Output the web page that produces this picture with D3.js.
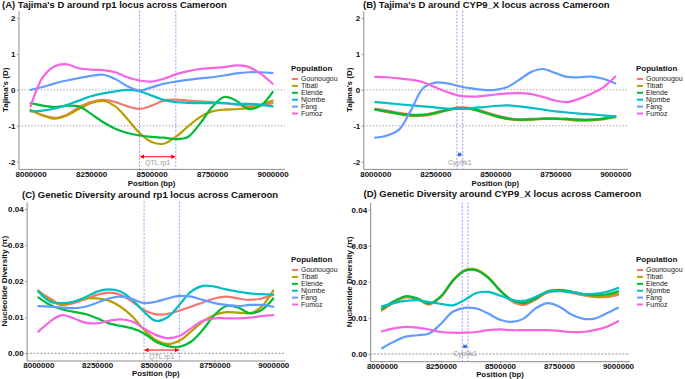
<!DOCTYPE html>
<html>
<head>
<meta charset="utf-8">
<script src="https://cdn.jsdelivr.net/npm/d3@7"></script>
<style>
  body { margin: 0; background: #fff; }
  svg { display: block; font-family: "Liberation Sans", Arial, sans-serif; }
</style>
</head>
<body>
<svg width="685" height="379"></svg>
<script>
// window positions (bp) where the smoothed curves were read
const positions = [8000000, 8050000, 8100000, 8150000, 8200000, 8250000, 8300000,
  8350000, 8400000, 8450000, 8500000, 8550000, 8600000, 8650000, 8700000,
  8750000, 8800000, 8850000, 8900000, 8950000, 9000000];

const populations = ["Gounougou", "Tibati", "Elende", "Njombe", "Fang", "Fumoz"];
const popColors = ["#F8766D", "#B79F00", "#00BA38", "#00BFC4", "#619CFF", "#F564E3"];

// rows follow populations order
const tajimaRp1 = [
  [-0.57, -0.71, -0.78, -0.69, -0.48, -0.34, -0.28, -0.34, -0.46, -0.53, -0.44, -0.3, -0.27, -0.3, -0.32, -0.34, -0.37, -0.41, -0.46, -0.44, -0.37],
  [-0.56, -0.71, -0.8, -0.71, -0.53, -0.37, -0.31, -0.46, -0.81, -1.2, -1.45, -1.5, -1.31, -1.02, -0.76, -0.6, -0.55, -0.54, -0.5, -0.42, -0.3],
  [-0.37, -0.44, -0.48, -0.44, -0.46, -0.67, -0.9, -1.08, -1.2, -1.27, -1.31, -1.33, -1.37, -1.31, -0.94, -0.48, -0.2, -0.3, -0.53, -0.44, -0.06],
  [-0.6, -0.58, -0.52, -0.42, -0.3, -0.18, -0.1, -0.04, 0.0, -0.04, -0.16, -0.28, -0.34, -0.36, -0.37, -0.37, -0.37, -0.39, -0.39, -0.41, -0.46],
  [0.0, 0.08, 0.18, 0.26, 0.33, 0.39, 0.42, 0.3, 0.1, -0.02, 0.07, 0.17, 0.23, 0.28, 0.32, 0.35, 0.4, 0.46, 0.49, 0.49, 0.47],
  [-0.46, 0.35, 0.66, 0.71, 0.6, 0.56, 0.55, 0.49, 0.35, 0.26, 0.23, 0.31, 0.43, 0.52, 0.58, 0.61, 0.63, 0.68, 0.64, 0.45, 0.17]
];

const tajimaCyp9 = [
  [-0.53, -0.58, -0.64, -0.69, -0.69, -0.63, -0.55, -0.49, -0.51, -0.6, -0.7, -0.78, -0.82, -0.81, -0.8, -0.8, -0.81, -0.83, -0.83, -0.8, -0.74],
  [-0.55, -0.62, -0.68, -0.73, -0.72, -0.66, -0.57, -0.51, -0.54, -0.63, -0.74, -0.81, -0.84, -0.83, -0.81, -0.81, -0.83, -0.86, -0.85, -0.82, -0.76],
  [-0.55, -0.6, -0.66, -0.7, -0.7, -0.64, -0.56, -0.5, -0.53, -0.62, -0.72, -0.8, -0.83, -0.82, -0.8, -0.8, -0.81, -0.83, -0.83, -0.8, -0.74],
  [-0.34, -0.37, -0.4, -0.43, -0.46, -0.49, -0.52, -0.53, -0.51, -0.48, -0.45, -0.43, -0.46, -0.5, -0.55, -0.6, -0.63, -0.66, -0.68, -0.71, -0.74],
  [-1.33, -1.27, -1.1, -0.55, 0.05, 0.2, 0.18, 0.1, 0.04, 0.0, 0.0, 0.08, 0.28, 0.5, 0.58, 0.47, 0.36, 0.35, 0.37, 0.31, 0.18],
  [0.36, 0.35, 0.32, 0.28, 0.21, 0.07, -0.06, -0.16, -0.19, -0.17, -0.13, -0.1, -0.09, -0.12, -0.2, -0.3, -0.34, -0.25, -0.11, 0.07, 0.37]
];

const piRp1 = [
  [0.0171, 0.0152, 0.0134, 0.0139, 0.015, 0.0162, 0.0168, 0.0162, 0.0143, 0.012, 0.0108, 0.0109, 0.0118, 0.0129, 0.0141, 0.0152, 0.0157, 0.0152, 0.0148, 0.0152, 0.0162],
  [0.0174, 0.0148, 0.0134, 0.0143, 0.0152, 0.0152, 0.0146, 0.0129, 0.0102, 0.0065, 0.0037, 0.0026, 0.0035, 0.006, 0.0088, 0.0106, 0.0114, 0.0113, 0.0111, 0.0129, 0.0174],
  [0.0155, 0.0134, 0.0122, 0.0115, 0.0109, 0.0097, 0.0083, 0.0076, 0.0069, 0.0055, 0.0032, 0.002, 0.0018, 0.0032, 0.0065, 0.0106, 0.0131, 0.0127, 0.0111, 0.012, 0.0152],
  [0.0171, 0.0143, 0.0139, 0.0143, 0.0155, 0.0171, 0.0177, 0.0171, 0.0148, 0.0115, 0.009, 0.01, 0.0134, 0.0171, 0.0187, 0.0185, 0.0177, 0.0171, 0.0166, 0.0164, 0.0163],
  [0.0131, 0.0129, 0.0127, 0.0125, 0.0129, 0.014, 0.0152, 0.0157, 0.015, 0.0139, 0.0143, 0.0152, 0.0159, 0.0157, 0.0148, 0.0139, 0.0134, 0.0131, 0.0134, 0.0134, 0.0129],
  [0.006, 0.0088, 0.0106, 0.0097, 0.0085, 0.0083, 0.009, 0.0094, 0.0088, 0.0069, 0.0051, 0.0042, 0.0048, 0.0069, 0.009, 0.0097, 0.0097, 0.0097, 0.0099, 0.0103, 0.0106]
];

const piCyp9 = [
  [0.0121, 0.0142, 0.0157, 0.0152, 0.0137, 0.0158, 0.0202, 0.023, 0.0232, 0.0212, 0.0176, 0.0146, 0.0136, 0.015, 0.017, 0.0175, 0.017, 0.0163, 0.0158, 0.0158, 0.0164],
  [0.0123, 0.0144, 0.0159, 0.0154, 0.0139, 0.016, 0.0204, 0.0232, 0.0234, 0.0213, 0.0177, 0.0149, 0.014, 0.0153, 0.0173, 0.0178, 0.0173, 0.0165, 0.0159, 0.016, 0.0168],
  [0.0125, 0.0146, 0.016, 0.0154, 0.014, 0.016, 0.0203, 0.0231, 0.0232, 0.0211, 0.0176, 0.015, 0.0141, 0.0154, 0.0173, 0.0177, 0.0173, 0.0167, 0.0163, 0.0165, 0.0174],
  [0.0132, 0.0141, 0.0147, 0.0149, 0.0144, 0.0139, 0.0135, 0.015, 0.0169, 0.0172, 0.0162, 0.015, 0.0147, 0.0158, 0.0172, 0.0174, 0.0172, 0.0167, 0.0167, 0.0172, 0.0183],
  [0.0016, 0.0034, 0.0048, 0.0052, 0.0057, 0.0084, 0.0117, 0.0128, 0.0126, 0.0112, 0.0095, 0.0089, 0.0098, 0.0126, 0.0141, 0.0132, 0.011, 0.0098, 0.0098, 0.0112, 0.0128],
  [0.0063, 0.0071, 0.0075, 0.0073, 0.0068, 0.0061, 0.0059, 0.0059, 0.0061, 0.0066, 0.0068, 0.0066, 0.0066, 0.0066, 0.0066, 0.0064, 0.0061, 0.0061, 0.0066, 0.0075, 0.0091]
];

const posTicks = [8000000, 8250000, 8500000, 8750000, 9000000];
const tajimaTicks = [-2, -1, 0, 1, 2];
const piTicks = [0, 0.01, 0.02, 0.03, 0.04];
const tajimaRefs = [0, -1];
const piRefs = [0];
const qtlRp1 = [8450000, 8600000];
const cyp9k1 = [8340000, 8364000];

const svg = d3.select("svg");
const defs = svg.append("defs");

// arrow heads for the locus markers
[["red", "#ff0000"], ["blue", "#3d6fe0"]].forEach(([k, c]) => {
  defs.append("marker").attr("id", "arr-" + k)
    .attr("viewBox", "0 0 10 10").attr("refX", 8).attr("refY", 5)
    .attr("markerWidth", 4).attr("markerHeight", 4)
    .attr("orient", "auto-start-reverse")
    .append("path").attr("d", "M0,0 L10,5 L0,10 z").attr("fill", c);
});

const panels = [
  {id: "A", box: [0, 0, 342, 190], data: tajimaRp1, xr: [18.5, 284.7], yd: [-2.2, 2.2], yr: [168.9, 10.8],
   ticks: tajimaTicks, fmt: d => String(d), refs: tajimaRefs, locus: qtlRp1, locusName: "QTL rp1",
   arrowY: -1.86, labelY: -2.03, arrowColor: "#ff0000", marker: "red",
   title: "(A) Tajima's D around rp1 locus across Cameroon", titleX: 2, titleY: 8,
   yTitle: "Tajima's (D)", yTitleX: 5, xTitleY: 186, legX: 291, legY: 71},
  {id: "B", box: [342, 0, 343, 190], data: tajimaCyp9, xr: [363.3, 627.3], yd: [-2.2, 2.2], yr: [168.9, 10.8],
   ticks: tajimaTicks, fmt: d => String(d), refs: tajimaRefs, locus: cyp9k1, locusName: "Cyp9k1",
   arrowY: -1.8, labelY: -2.03, arrowColor: "#3d6fe0", marker: "blue",
   title: "(B) Tajima's D around CYP9_X locus across Cameroon", titleX: 363, titleY: 7.5,
   yTitle: "Tajima's (D)", yTitleX: 349, xTitleY: 186, legX: 636, legY: 71},
  {id: "C", box: [0, 190, 342, 189], data: piRp1, xr: [26.6, 285], yd: [-0.002, 0.042], yr: [360.5, 201.8],
   ticks: piTicks, fmt: d3.format(".2f"), refs: piRefs, locus: qtlRp1, locusName: "QTL rp1",
   arrowY: 0.0009, labelY: -0.0008, arrowColor: "#ff0000", marker: "red",
   title: "(C) Genetic Diversity around rp1 locus across Cameroon", titleX: 22, titleY: 197.5,
   yTitle: "Nucleotide Diversity (\u03c0)", yTitleX: 4.5, xTitleY: 376.3, legX: 291, legY: 262},
  {id: "D", box: [342, 190, 343, 189], data: piCyp9, xr: [370.2, 629.8], yd: [-0.002, 0.042], yr: [361.2, 202.5],
   ticks: piTicks, fmt: d3.format(".2f"), refs: piRefs, locus: cyp9k1, locusName: "Cyp9k1",
   arrowY: 0.0021, labelY: 0.0002, arrowColor: "#3d6fe0", marker: "blue",
   title: "(D) Genetic Diversity around CYP9_X locus across Cameroon", titleX: 363.5, titleY: 197,
   yTitle: "Nucleotide Diversity (\u03c0)", yTitleX: 349, xTitleY: 376.5, legX: 636, legY: 262}
];

panels.forEach(p => {
  defs.append("clipPath").attr("id", "clip" + p.id)
    .append("rect").attr("x", p.box[0]).attr("y", p.box[1])
    .attr("width", p.box[2]).attr("height", p.box[3]);

  const g = svg.append("g").attr("clip-path", `url(#clip${p.id})`);

  const x = d3.scaleLinear().domain([7950000, 9050000]).range(p.xr);
  const y = d3.scaleLinear().domain(p.yd).range(p.yr);

  // horizontal reference lines
  g.selectAll(".ref").data(p.refs).enter().append("line")
    .attr("x1", p.xr[0]).attr("x2", p.xr[1])
    .attr("y1", d => y(d)).attr("y2", d => y(d))
    .attr("stroke", "#7a7a7a").attr("stroke-width", 0.8)
    .attr("stroke-dasharray", p.id === "A" || p.id === "B" ? "1.2,2" : "2,1.5");

  // locus boundaries
  g.selectAll(".loc").data(p.locus).enter().append("line")
    .attr("x1", d => x(d)).attr("x2", d => x(d))
    .attr("y1", p.yr[1]).attr("y2", p.yr[0])
    .attr("stroke", "#7070ff").attr("stroke-width", 0.7)
    .attr("stroke-dasharray", "2,1.5");

  // smoothed curves
  const line = d3.line()
    .x((d, i) => x(positions[i]))
    .y(d => y(d))
    .curve(d3.curveCatmullRom.alpha(0.5));

  g.selectAll(".curve").data(p.data).enter().append("path")
    .attr("d", d => line(d))
    .attr("fill", "none")
    .attr("stroke", (d, i) => popColors[i])
    .attr("stroke-width", 2.2)
    .attr("stroke-linecap", "round");

  // locus arrow + label
  g.append("line")
    .attr("x1", x(p.locus[0]) + 1).attr("x2", x(p.locus[1]) - 1)
    .attr("y1", y(p.arrowY)).attr("y2", y(p.arrowY))
    .attr("stroke", p.arrowColor).attr("stroke-width", 1.1)
    .attr("marker-start", `url(#arr-${p.marker})`)
    .attr("marker-end", `url(#arr-${p.marker})`);

  g.append("text")
    .attr("x", x((p.locus[0] + p.locus[1]) / 2))
    .attr("y", y(p.labelY))
    .attr("dy", "0.35em")
    .attr("text-anchor", "middle")
    .attr("font-size", "7px")
    .attr("fill", "#9a9a9a")
    .text(p.locusName);

  // axes
  const yAxis = d3.axisLeft(y).tickValues(p.ticks).tickFormat(p.fmt)
    .tickSize(1.5).tickSizeOuter(0).tickPadding(1.5);
  const ya = g.append("g").attr("transform", `translate(${p.xr[0]},0)`).call(yAxis);

  const xAxis = d3.axisBottom(x).tickValues(posTicks).tickFormat(d3.format("d"))
    .tickSize(1.5).tickSizeOuter(0).tickPadding(0.5);
  const xa = g.append("g").attr("transform", `translate(0,${p.yr[0]})`).call(xAxis);

  [ya, xa].forEach(a => {
    a.select(".domain").attr("stroke", "#8c8c8c").attr("stroke-width", 1);
    a.selectAll(".tick line").attr("stroke", "#8c8c8c");
    a.selectAll(".tick text").attr("fill", "#111").attr("font-size", "8px")
      .attr("font-weight", "bold").attr("font-family", "Liberation Sans, Arial, sans-serif");
  });

  // titles
  g.append("text")
    .attr("x", p.titleX).attr("y", p.titleY)
    .attr("font-size", "9.5px").attr("font-weight", "bold").attr("fill", "#111")
    .text(p.title);

  g.append("text")
    .attr("x", (p.xr[0] + p.xr[1]) / 2).attr("y", p.xTitleY)
    .attr("text-anchor", "middle")
    .attr("font-size", "7.8px").attr("font-weight", "bold").attr("fill", "#111")
    .text("Position (bp)");

  g.append("text")
    .attr("transform", `translate(${p.yTitleX},${(p.yr[0] + p.yr[1]) / 2}) rotate(-90)`)
    .attr("dy", "0.35em")
    .attr("text-anchor", "middle")
    .attr("font-size", "8px").attr("font-weight", "bold").attr("fill", "#111")
    .text(p.yTitle);

  // legend
  const leg = g.append("g").attr("transform", `translate(${p.legX},${p.legY})`);
  leg.append("text")
    .attr("font-size", "8px").attr("font-weight", "bold").attr("fill", "#111")
    .text("Population");

  const items = leg.selectAll(".item").data(populations).enter().append("g")
    .attr("transform", (d, i) => `translate(0,${8 + i * 6.9})`);
  items.append("line")
    .attr("x1", 1).attr("x2", 7).attr("y1", 0).attr("y2", 0)
    .attr("stroke", (d, i) => popColors[i]).attr("stroke-width", 2);
  items.append("text")
    .attr("x", 10).attr("dy", "0.35em")
    .attr("font-size", "7px").attr("fill", "#222")
    .text(d => d);
});
</script>
</body>
</html>
